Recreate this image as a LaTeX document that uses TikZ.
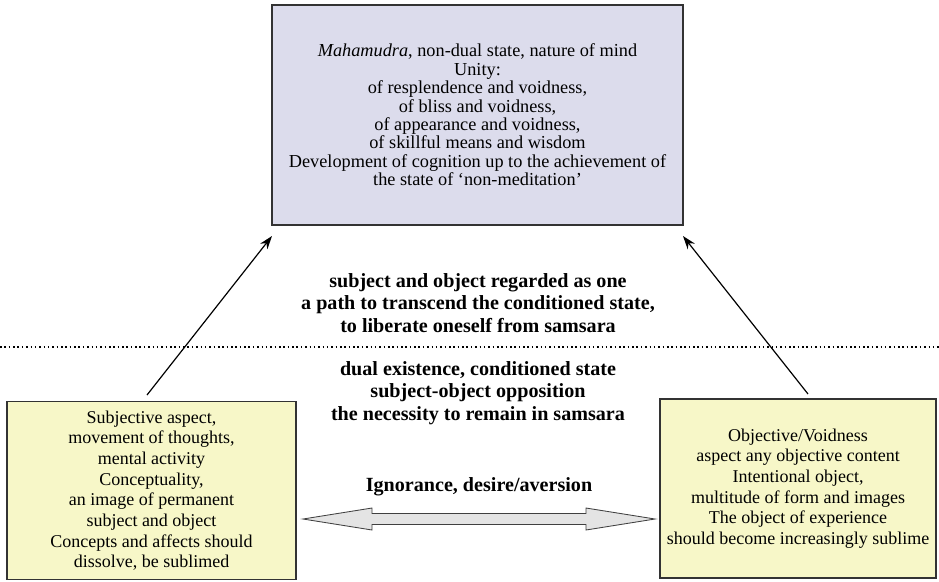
\documentclass[tikz,border=0pt]{standalone}
\usepackage{fontspec}
\setmainfont{Liberation Serif}
\usetikzlibrary{arrows.meta}
\definecolor{lavender}{HTML}{DCDCEC}
\definecolor{paleyellow}{HTML}{F7F7C8}
\definecolor{arrowgray}{HTML}{E4E4E4}

\begin{document}
\begin{tikzpicture}[x=0.025cm,y=-0.025cm,
  box/.style={draw=black!80,line width=1pt,align=center,inner sep=0pt},
  upper/.style={box,fill=lavender,font=\fontsize{13}{13.1}\selectfont},
  lower/.style={box,fill=paleyellow,font=\fontsize{12.8}{14.7}\selectfont},
  heading/.style={align=center,font=\bfseries\fontsize{14.3}{16}\selectfont},
  rise/.style={line width=0.85pt,-{Stealth[length=9.5pt,width=6.5pt]}}]
\useasboundingbox (0,0) rectangle (939,581);

\node[upper,minimum width=10.275cm,minimum height=5.5cm] (mind) at (477.5,115)
  {\textit{Mahamudra}, non-dual state, nature of mind\\ Unity:\\
   of resplendence and voidness,\\ of bliss and voidness,\\
   of appearance and voidness,\\ of skillful means and wisdom\\
   Development of cognition up to the achievement of\\
   the state of `non-meditation'};

\node[lower,minimum width=7.225cm,minimum height=4.45cm] (subj) at (151.5,490.5)
  {Subjective aspect,\\ movement of thoughts,\\ mental activity\\ Conceptuality,\\
   an image of permanent\\ subject and object\\ Concepts and affects should\\
   dissolve, be sublimed};

\node[lower,minimum width=6.9cm,minimum height=4.475cm] (obj) at (798,488.5)
  {Objective/Voidness\\ aspect any objective content\\ Intentional object,\\
   multitude of form and images\\ The object of experience\\
   should become increasingly sublime};

\node[heading] (beyond) at (478,303) {subject and object regarded as one\\
  a path to transcend the conditioned state,\\ to liberate oneself from samsara};
\node[heading] (dual) at (478,393) {dual existence, conditioned state\\
  subject-object opposition\\ the necessity to remain in samsara};
\node[heading] (ignor) at (479,487) {Ignorance, desire/aversion};

\draw[line width=1.1pt,dash pattern=on 1.1pt off 2pt] (0,347) -- (939,347);

\coordinate (lfoot) at (147,395);
\coordinate (ltip) at (272,236);
\coordinate (rfoot) at (808,394);
\coordinate (rtip) at (683,236);
\draw[rise] (lfoot) -- (ltip);
\draw[rise] (rfoot) -- (rtip);

\coordinate (ltail) at (303,519);
\coordinate (rtail) at (655,519);
\draw[line width=0.6pt,draw=black!75,fill=arrowgray] (ltail) -- ++(69,-11) -- ++(0,5.5)
  -- ++(214,0) -- ++(0,-5.5) -- (rtail) -- ++(-69,11) -- ++(0,-5.5)
  -- ++(-214,0) -- ++(0,5.5) -- cycle;
\end{tikzpicture}
\end{document}
